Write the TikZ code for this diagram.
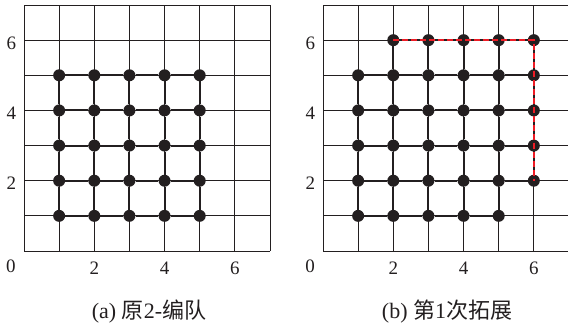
\documentclass[tikz,border=0pt]{standalone}
\usepackage{fontspec}
\setmainfont{Liberation Serif}
\newfontfamily\cjk{Noto Sans CJK SC}
\definecolor{ink}{HTML}{231F20}
\definecolor{dashred}{HTML}{EE1C25}
\tikzset{
  gridline/.style={draw=ink, line width=0.8pt},
  edge/.style={draw=ink, line width=2pt},
  dot/.style={circle, fill=ink, inner sep=0pt, minimum size=12pt},
  lbl/.style={text=ink, font=\fontsize{19}{22}\selectfont, inner sep=0pt},
  captext/.style={text=ink, font=\fontsize{22}{26}\selectfont, inner sep=0pt},
  newline/.style={draw=dashred, line width=2pt, dash pattern=on 6pt off 3pt},
  cell/.style={x=35.14pt, y=35.14pt}
}
\begin{document}
\begin{tikzpicture}
\useasboundingbox (0,0) rectangle (568pt,327pt);
% ---------- panel (a)
\begin{scope}[shift={(24pt,76pt)}, cell]
  \foreach \t in {0,...,7} {
    \draw[gridline] (\t,0) -- (\t,7);
    \draw[gridline] (0,\t) -- (7,\t);
  }
  \foreach \i in {1,...,5} \foreach \j in {1,...,5}
    \node[dot] (a-\i-\j) at (\i,\j) {};
  \foreach \i [evaluate=\i as \k using int(\i+1)] in {1,...,4}
    \foreach \j in {1,...,5} {
      \draw[edge] (a-\i-\j) -- (a-\k-\j);
      \draw[edge] (a-\j-\i) -- (a-\j-\k);
    }
  \node[lbl] (a-y2) at (-0.36,1.92) {2};
  \node[lbl] (a-y4) at (-0.36,3.92) {4};
  \node[lbl] (a-y6) at (-0.36,5.92) {6};
  \node[lbl] (a-o) at (-0.37,-0.43) {0};
  \node[lbl] (a-x2) at (2,-0.49) {2};
  \node[lbl] (a-x4) at (4,-0.49) {4};
  \node[lbl] (a-x6) at (6,-0.49) {6};
\end{scope}
\node[captext] (capa) at (149pt,15pt) {(a) {\cjk 原}2-{\cjk 编队}};
% ---------- panel (b)
\begin{scope}[shift={(323pt,76pt)}, cell]
  \foreach \t in {0,...,7} {
    \draw[gridline] (\t,0) -- (\t,7);
    \draw[gridline] (0,\t) -- (7,\t);
  }
  \foreach \i in {1,...,5} \foreach \j in {1,...,5}
    \node[dot] (b-\i-\j) at (\i,\j) {};
  \foreach \i in {2,...,6} \node[dot] (b-\i-6) at (\i,6) {};
  \foreach \j in {2,...,5} \node[dot] (b-6-\j) at (6,\j) {};
  \foreach \i [evaluate=\i as \k using int(\i+1)] in {1,...,4}
    \foreach \j in {1,...,5} {
      \draw[edge] (b-\i-\j) -- (b-\k-\j);
      \draw[edge] (b-\j-\i) -- (b-\j-\k);
    }
  \foreach \i in {2,...,5} {
    \draw[edge] (b-\i-5) -- (b-\i-6);
    \draw[edge] (b-5-\i) -- (b-6-\i);
  }
  \draw[edge] (b-2-6.center) -- (b-6-6.center) -- (b-6-2.center);
  \draw[newline] (b-2-6.center) -- (b-6-6.center) -- (b-6-2.center);
  \node[lbl] (b-y2) at (-0.36,1.92) {2};
  \node[lbl] (b-y4) at (-0.36,3.92) {4};
  \node[lbl] (b-y6) at (-0.36,5.92) {6};
  \node[lbl] (b-o) at (-0.37,-0.43) {0};
  \node[lbl] (b-x2) at (2,-0.49) {2};
  \node[lbl] (b-x4) at (4,-0.49) {4};
  \node[lbl] (b-x6) at (6,-0.49) {6};
\end{scope}
\node[captext] (capb) at (447pt,15pt) {(b) {\cjk 第}1{\cjk 次拓展}};
\end{tikzpicture}
\end{document}
